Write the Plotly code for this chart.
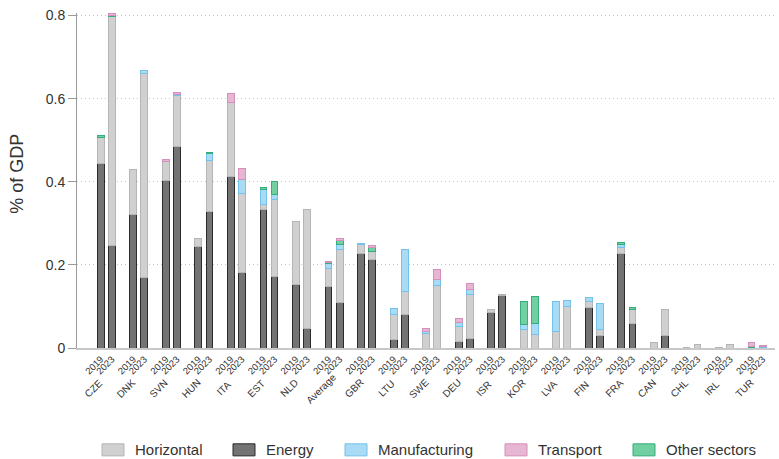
import plotly.graph_objects as go

# Country groups and years
countries = ["CZE", "DNK", "SVN", "HUN", "ITA", "EST", "NLD", "Average", "GBR", "LTU",
             "SWE", "DEU", "ISR", "KOR", "LVA", "FIN", "FRA", "CAN", "CHL", "IRL", "TUR"]
years = ["2019", "2023"]

# Support by sector, % of GDP (2019 values, 2023 values per country)
energy_2019 = [0.445, 0.321, 0.404, 0.244, 0.413, 0.333, 0.152, 0.149, 0.227, 0.021,
               0.0, 0.016, 0.085, 0.0, 0.0, 0.097, 0.227, 0.0, 0.0, 0.0, 0.0]
energy_2023 = [0.247, 0.169, 0.486, 0.328, 0.181, 0.172, 0.047, 0.110, 0.212, 0.081,
               0.0, 0.024, 0.127, 0.0, 0.0, 0.031, 0.058, 0.029, 0.0, 0.0, 0.0]
horizontal_2019 = [0.062, 0.109, 0.044, 0.019, 0.178, 0.012, 0.153, 0.043, 0.022, 0.059,
                   0.035, 0.036, 0.007, 0.045, 0.039, 0.015, 0.016, 0.014, 0.002, 0.002, 0.001]
horizontal_2023 = [0.550, 0.491, 0.121, 0.122, 0.190, 0.185, 0.287, 0.127, 0.021, 0.056,
                   0.151, 0.104, 0.002, 0.033, 0.100, 0.013, 0.034, 0.063, 0.009, 0.009, 0.001]
manufacturing_2019 = [0.0, 0.0, 0.0, 0.0, 0.0, 0.037, 0.0, 0.011, 0.003, 0.015,
                      0.005, 0.010, 0.0, 0.011, 0.072, 0.009, 0.006, 0.0, 0.0, 0.0, 0.0]
manufacturing_2023 = [0.0, 0.008, 0.003, 0.017, 0.034, 0.012, 0.0, 0.012, 0.0, 0.099,
                      0.014, 0.013, 0.0, 0.026, 0.015, 0.064, 0.0, 0.0, 0.0, 0.0, 0.002]
transport_2019 = [0.0, 0.0, 0.005, 0.0, 0.022, 0.0, 0.0, 0.002, 0.0, 0.0,
                  0.007, 0.010, 0.0, 0.0, 0.0, 0.0, 0.0, 0.0, 0.0, 0.0, 0.010]
transport_2023 = [0.004, 0.0, 0.005, 0.0, 0.028, 0.0, 0.0, 0.004, 0.006, 0.0,
                  0.024, 0.014, 0.0, 0.0, 0.0, 0.0, 0.0, 0.0, 0.0, 0.0, 0.003]
other_2019 = [0.005, 0.0, 0.0, 0.0, 0.0, 0.004, 0.0, 0.002, 0.0, 0.0,
              0.0, 0.0, 0.0, 0.055, 0.0, 0.0, 0.004, 0.0, 0.0, 0.0, 0.003]
other_2023 = [0.003, 0.0, 0.0, 0.004, 0.0, 0.032, 0.0, 0.010, 0.008, 0.0,
              0.0, 0.0, 0.0, 0.065, 0.0, 0.0, 0.005, 0.0, 0.0, 0.0, 0.0]

y_ticks = [0, 0.2, 0.4, 0.6, 0.8]
y_tick_labels = ["0", "0.2", "0.4", "0.6", "0.8"]

# Sector styling, listed in stacking order (bottom to top)
sectors = [
    ("Energy", energy_2019, energy_2023, "#737373", "#2b2b2b"),
    ("Horizontal", horizontal_2019, horizontal_2023, "#d0d0d0", "#b5b5b5"),
    ("Manufacturing", manufacturing_2019, manufacturing_2023, "#a9dbf4", "#72c2ec"),
    ("Other sectors", other_2019, other_2023, "#72cfa2", "#35ad7c"),
    ("Transport", transport_2019, transport_2023, "#e7b6d3", "#d58fbb"),
]

offset = 0.17
bar_w = 0.21
x_pos = []
for i in range(len(countries)):
    x_pos += [i - offset, i + offset]
x_labels = years * len(countries)

fig = go.Figure()
for name, v19, v23, fill, line in sectors:
    vals = []
    for a, b in zip(v19, v23):
        # empty segments are left out so no outline is drawn for them
        vals += [a if a > 0 else None, b if b > 0 else None]
    fig.add_trace(go.Bar(
        x=x_pos, y=vals, name=name, width=bar_w,
        marker=dict(color=fill, line=dict(color=line, width=1)),
        showlegend=False,
    ))

font_family = "Liberation Sans, Arial, sans-serif"
text_color = "#333333"

# Country names below the year labels
for i, c in enumerate(countries):
    fig.add_annotation(
        x=i, y=0, xref="x", yref="paper", text=c, showarrow=False,
        textangle=-45, xanchor="center", yanchor="middle",
        xshift=-13, yshift=-40,
        font=dict(family=font_family, size=10, color=text_color),
    )

# Y-axis title
fig.add_annotation(
    x=-0.086, y=0.52, xref="paper", yref="paper", text="% of GDP", showarrow=False,
    textangle=-90, xanchor="center", yanchor="middle",
    font=dict(family=font_family, size=18, color=text_color),
)

# Legend drawn as swatches with labels underneath the plot
legend_items = [
    ("Horizontal", "#d0d0d0", "#b5b5b5"),
    ("Energy", "#737373", "#2b2b2b"),
    ("Manufacturing", "#a9dbf4", "#72c2ec"),
    ("Transport", "#e7b6d3", "#d58fbb"),
    ("Other sectors", "#72cfa2", "#35ad7c"),
]
legend_x = [102, 233, 345, 505, 633]
plot_left, plot_w = 77, 698
for (label, fill, line), px in zip(legend_items, legend_x):
    x0 = (px - plot_left) / plot_w
    x1 = (px + 22 - plot_left) / plot_w
    fig.add_shape(type="rect", xref="paper", yref="paper",
                  x0=x0, x1=x1, y0=-0.286, y1=-0.322,
                  fillcolor=fill, line=dict(color=line, width=1))
    fig.add_annotation(
        x=(px + 31 - plot_left) / plot_w, y=-0.304, xref="paper", yref="paper",
        text=label, showarrow=False, xanchor="left", yanchor="middle",
        font=dict(family=font_family, size=15, color=text_color),
    )

fig.update_layout(
    width=779, height=459,
    margin=dict(l=77, r=4, t=13, b=111),
    barmode="stack",
    plot_bgcolor="white", paper_bgcolor="white",
    font=dict(family=font_family, color=text_color),
    showlegend=False,
    xaxis=dict(
        range=[-0.9, 20.55],
        tickmode="array", tickvals=x_pos, ticktext=x_labels,
        tickangle=-45, tickfont=dict(size=9.5, color=text_color),
        showgrid=False, zeroline=False,
        showline=True, linecolor="#c8c8c8", linewidth=2,
        ticks="", ticklen=0,
    ),
    yaxis=dict(
        range=[0, 0.806],
        tickmode="array", tickvals=y_ticks, ticktext=y_tick_labels,
        tickfont=dict(size=14, color=text_color),
        showgrid=True, gridcolor="#c4c4c4", griddash="1px,3px", gridwidth=1,
        zeroline=False,
        showline=True, linecolor="#9a9a9a", linewidth=1,
        ticks="outside", ticklen=8, tickcolor="#9a9a9a",
    ),
)

fig.write_html("out.html")
